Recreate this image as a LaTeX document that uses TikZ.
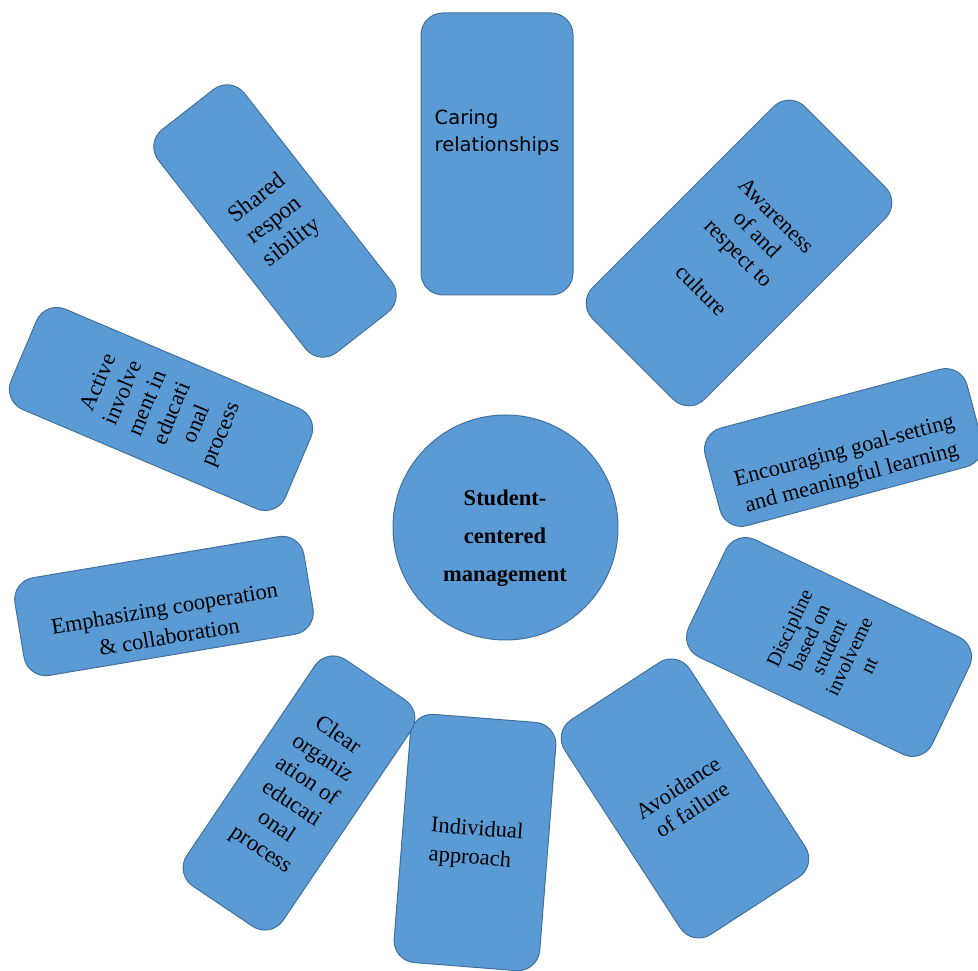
\documentclass[tikz,border=0pt]{standalone}
\usepackage{fontspec}
\setmainfont{Liberation Serif}
\newfontfamily\cardsans{DejaVu Sans}
\usetikzlibrary{calc}
\definecolor{cardblue}{HTML}{5B9BD5}
\definecolor{cardline}{HTML}{41719C}

\tikzset{
  card/.style={draw=cardline, fill=cardblue, line width=1pt, rounded corners=22pt, inner sep=0pt},
  cardtext/.style={align=center, inner sep=0pt, font=\fontsize{22.5}{26.5}\selectfont},
}

\begin{document}
\begin{tikzpicture}[x=1pt, y=1pt]
  \useasboundingbox (0,0) rectangle (978,971);
  % centre
  \node[draw=cardline, fill=cardblue, line width=1pt, circle, minimum size=225pt] (hub) at (505.5,443.5) {};
  % the ten cards round it
  \node[card, minimum width=152pt, minimum height=282pt] (caring) at (497,817) {};
  \node[card, rotate=-45, minimum width=158pt, minimum height=300pt] (aware) at (739,718) {};
  \node[card, rotate=15, minimum width=271pt, minimum height=101pt] (goals) at (843.5,523.5) {};
  \node[card, rotate=64.5, minimum width=130pt, minimum height=270pt] (discipline) at (829,324) {};
  \node[card, rotate=33, minimum width=149pt, minimum height=256pt] (failure) at (685,172.5) {};
  \node[card, rotate=-4.5, minimum width=146pt, minimum height=249pt] (approach) at (475,128.5) {};
  \node[card, rotate=-34, minimum width=116pt, minimum height=273pt] (organize) at (299,178) {};
  \node[card, rotate=9.5, minimum width=293pt, minimum height=99pt] (cooperate) at (164,365) {};
  \node[card, rotate=67, minimum width=109pt, minimum height=298pt] (active) at (161,562) {};
  \node[card, rotate=38, minimum width=109pt, minimum height=283pt] (shared) at (275,750) {};

  % texts
  \node[align=center, font=\bfseries\fontsize{22.5}{38}\selectfont] (hubtext) at (505,433) {Student-\\centered\\management};
  \node[cardtext, anchor=west, align=left, font=\cardsans\fontsize{19.5}{27}\selectfont] (caringtext) at ([shift={(14,21)}]caring.west) {Caring\\relationships};
  \node[cardtext, rotate=-45] (awaretext) at (aware.center) {Awareness\\of and\\respect to\\[26.5pt]culture};
  \node[cardtext, rotate=15, font=\fontsize{22.5}{28}\selectfont] (goalstext) at ($(goals.center)!0.36!(goals.south)$) {Encouraging goal-setting\\and meaningful learning};
  \node[cardtext, rotate=64.5, font=\fontsize{20}{22}\selectfont] (disciplinetext) at (discipline.center) {Discipline\\based on\\student\\involveme\\nt};
  \node[cardtext, rotate=33, font=\fontsize{22.5}{26}\selectfont] (failuretext) at (failure.center) {Avoidance\\of failure};
  \node[cardtext, rotate=-4.5, align=left, font=\fontsize{22.5}{29}\selectfont] (approachtext) at ([shift={(1,-2)}]approach.center) {Individual\\approach};
  \node[cardtext, rotate=-34, font=\fontsize{23}{27.5}\selectfont] (organizetext) at (organize.center) {Clear\\organiz\\ation of\\educati\\onal\\process};
  \node[cardtext, rotate=9.5, font=\fontsize{22.5}{29}\selectfont] (cooperatetext) at ($(cooperate.center)!0.33!(cooperate.south)$) {Emphasizing cooperation\\\& collaboration};
  \node[cardtext, rotate=67] (activetext) at (active.center) {Active\\involve\\ment in\\educati\\onal\\process};
  \node[cardtext, rotate=38, font=\fontsize{23.5}{28}\selectfont] (sharedtext) at (shared.center) {Shared\\respon\\sibility};
\end{tikzpicture}
\end{document}
